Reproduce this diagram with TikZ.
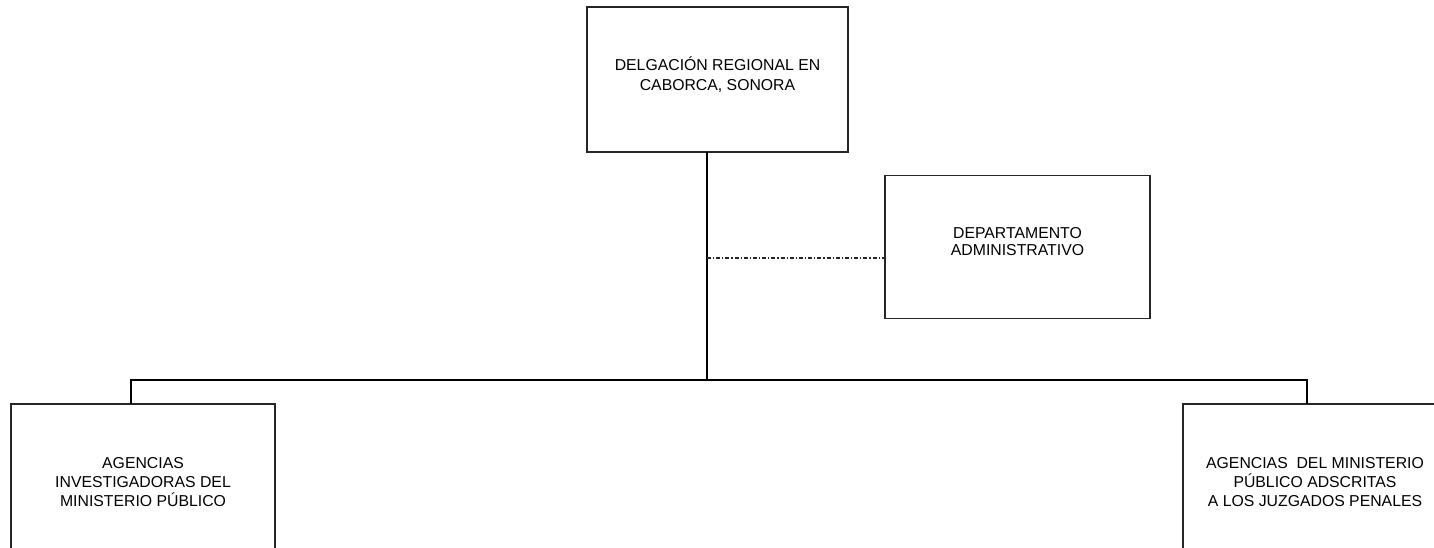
\documentclass[tikz,border=0pt]{standalone}
\usepackage{fontspec}
\setmainfont{Liberation Sans}
\usetikzlibrary{positioning,calc}
\tikzstyle{unit} = [rectangle, draw=black!85, line width=1.1pt, align=center, inner sep=0pt, font=\fontsize{15.8}{19.3}\selectfont]
\tikzstyle{link} = [line width=2pt]
\tikzstyle{staff} = [line width=1.3pt, black!85, dash pattern=on 4pt off 2pt on 1.2pt off 2pt]

\begin{document}
\begin{tikzpicture}[x=1pt,y=-1pt]
    \useasboundingbox (0,0) rectangle (1434,547);
    \clip (0,0) rectangle (1434,547);

    \node[unit, minimum width=261pt, minimum height=145pt, text depth=12pt] (del) at (717.5,79.5) {DELGACIÓN REGIONAL EN\\CABORCA, SONORA};
    \node[unit, minimum width=265pt, minimum height=143pt, text depth=11pt, font=\fontsize{15.8}{17.7}\selectfont] (dept) at (1017.5,247) {DEPARTAMENTO\\ADMINISTRATIVO};
    \node[unit, minimum width=264pt, minimum height=156pt] (agi) at (143,482) {AGENCIAS\\INVESTIGADORAS DEL\\MINISTERIO PÚBLICO};
    \node[unit, minimum width=264pt, minimum height=156pt] (agj) at (1315,482) {AGENCIAS \ DEL MINISTERIO\\PÚBLICO ADSCRITAS\\A LOS JUZGADOS PENALES};

    \coordinate (stem) at (707,152);
    \coordinate (bus) at (707,380);
    \coordinate (side) at (707,258);
    \coordinate (dl) at (131,404);
    \coordinate (dr) at (1307,404);

    \draw[link] (stem) -- (bus);
    \draw[link] (dl) |- (bus) -| (dr);
    \draw[staff] (side) -- (dept.west |- side);
\end{tikzpicture}
\end{document}
